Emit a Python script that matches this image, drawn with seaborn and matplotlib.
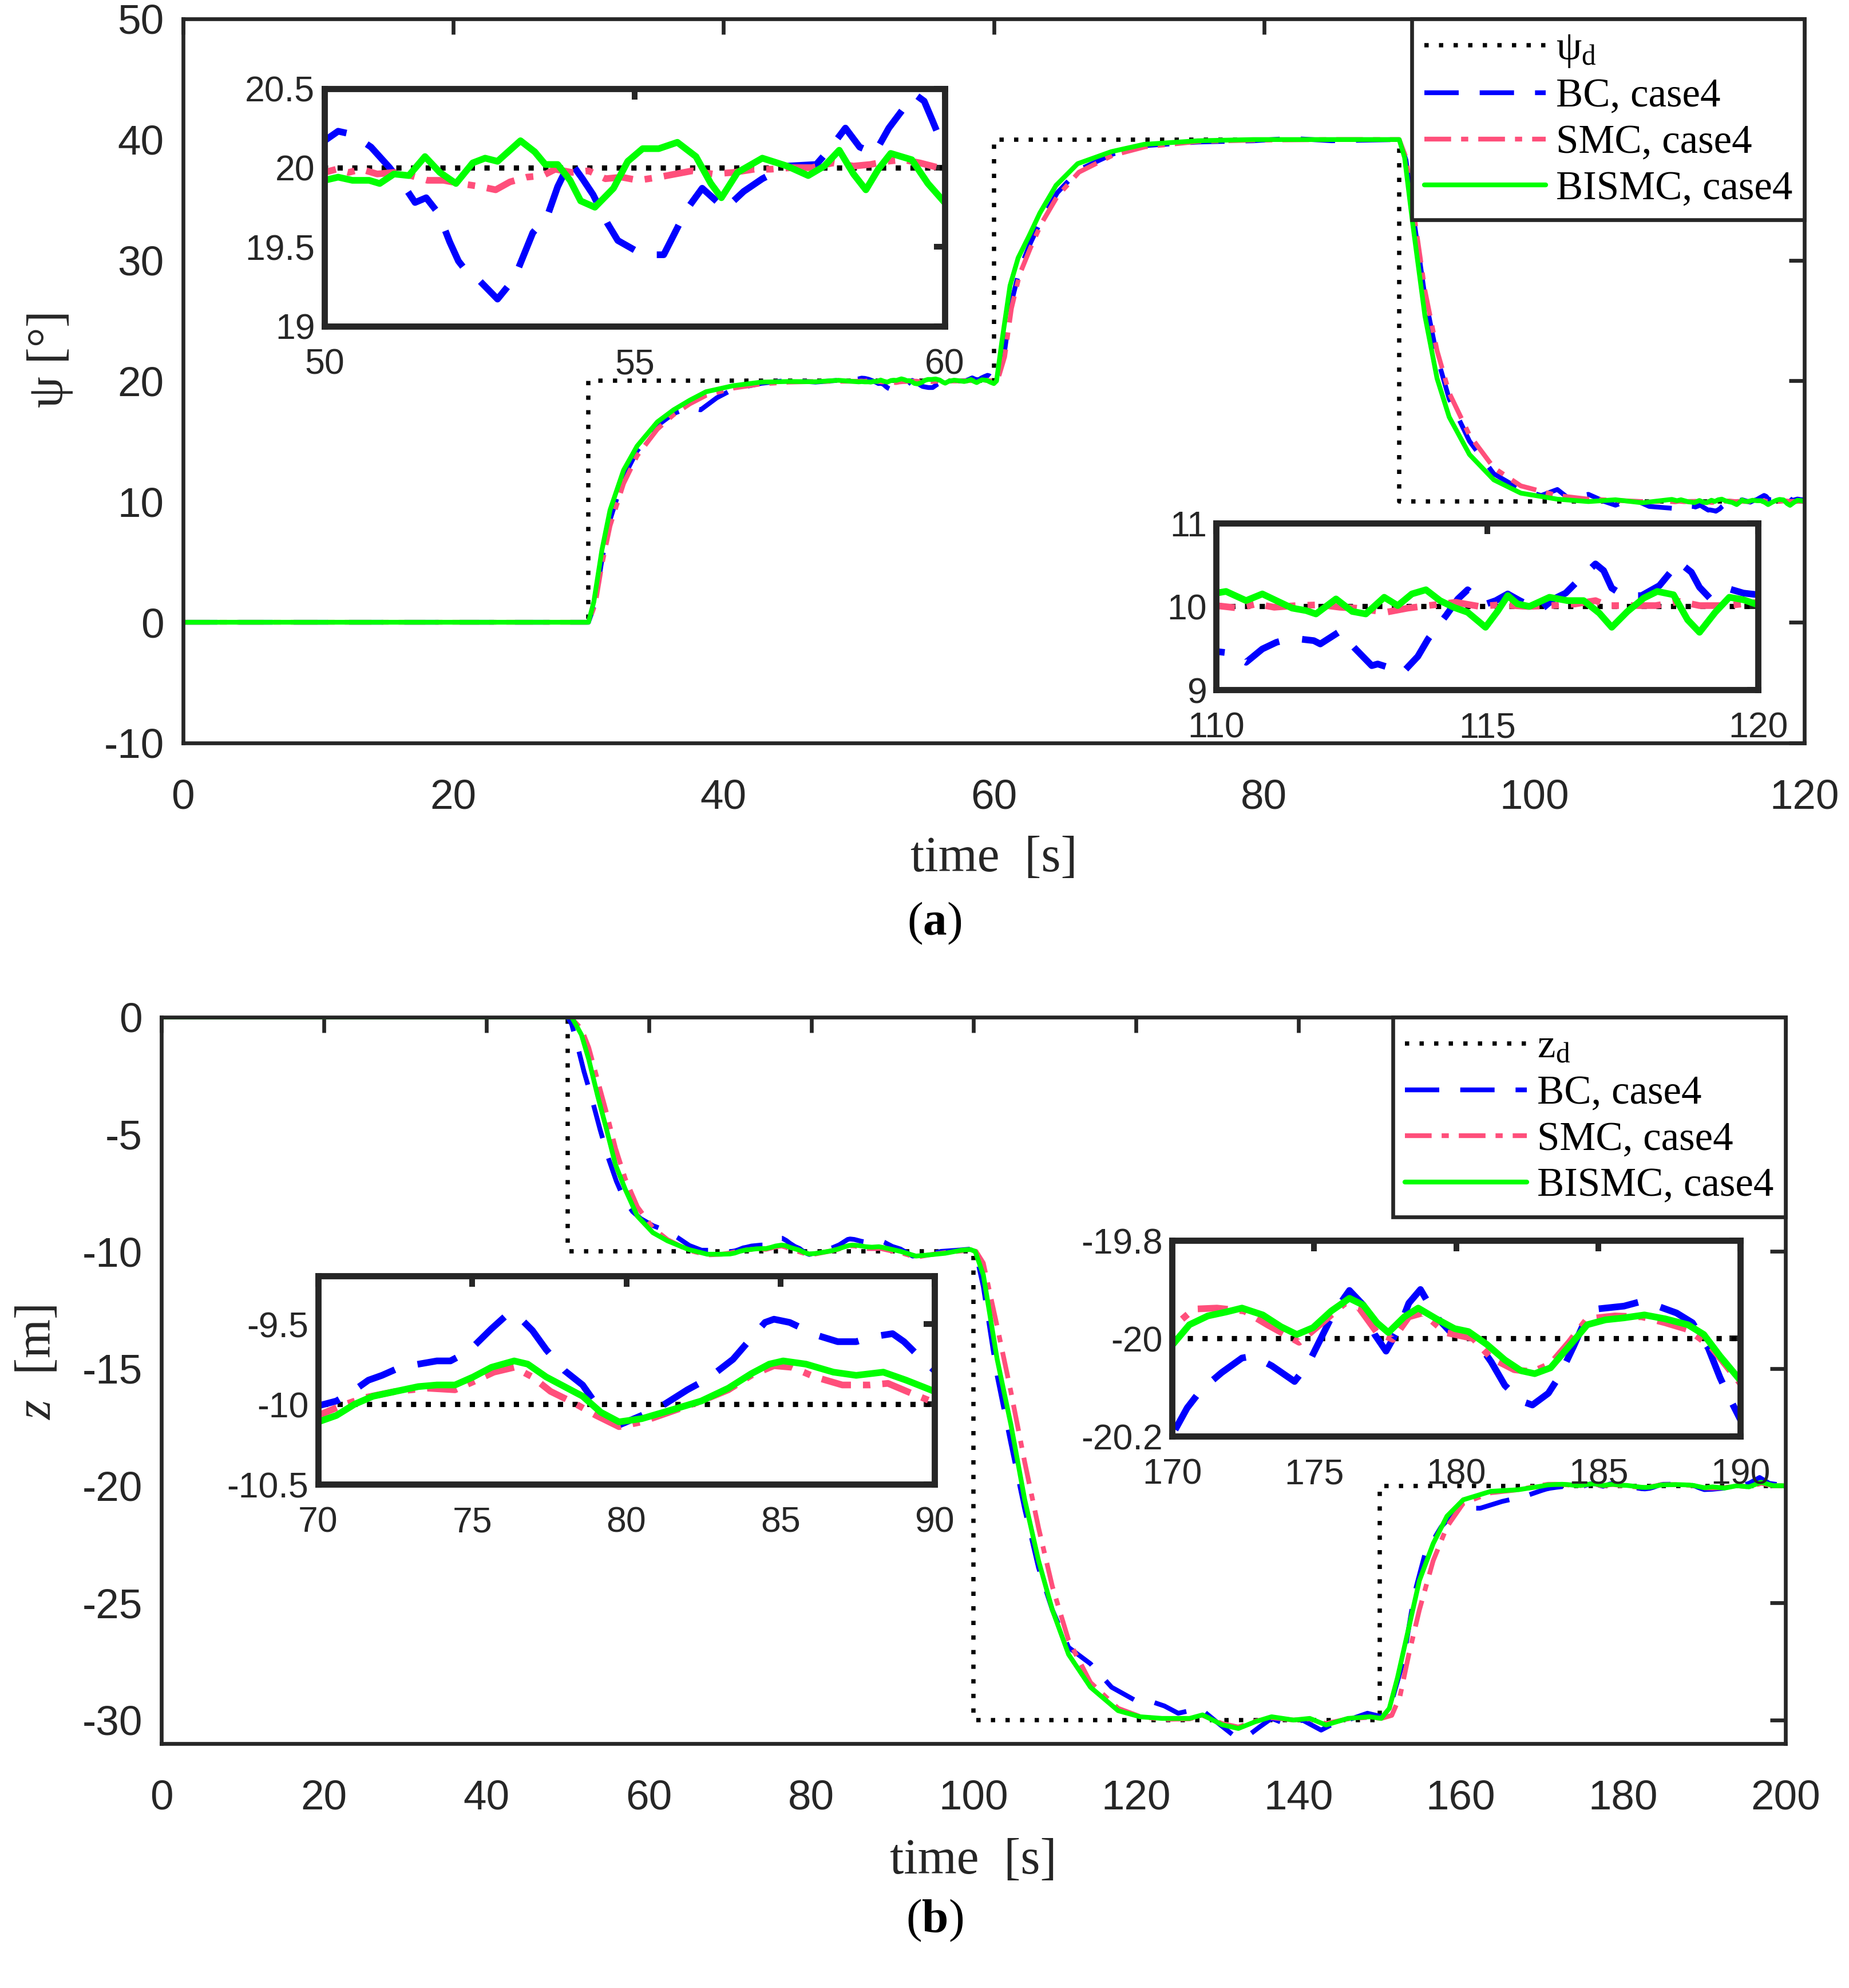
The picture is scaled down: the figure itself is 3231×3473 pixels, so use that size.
import matplotlib
matplotlib.use("Agg")
import matplotlib.pyplot as plt
import seaborn as sns
from matplotlib.ticker import FuncFormatter

# ---------------- (a) heading angle psi [deg] ----------------
t_ref_a = [0, 30, 60, 90, 120]
psi_ref = [0, 20, 40, 10, 10]

t_bc_a = [0, 30, 30.5, 31, 31.6, 32.6, 33.6, 35.1, 36.3, 37.5, 38.3, 39.5, 40.7, 42.8, 44.8, 46.8, 48.5,
          50.0, 50.22, 50.45, 50.75, 51.05, 51.29, 51.46, 51.64, 51.84, 52.02, 52.16, 52.32, 52.49, 52.79,
          53.06, 53.36, 53.59, 53.76, 53.96, 54.16, 54.33, 54.56, 54.73, 55.0, 55.17, 55.47, 55.69, 55.83,
          56.09, 56.46, 56.76, 57.06, 57.46, 57.93, 58.13, 58.40, 58.63, 58.87, 59.10, 59.33, 59.53, 59.67,
          59.80, 60.0,
          60.3, 60.8, 61.3, 61.9, 62.7, 63.5, 64.7, 66.3, 68.8, 71.2, 75.2, 79.2, 82, 85, 90, 90.5, 91,
          91.9, 92.8, 93.7, 95.2, 97, 99, 100.5, 101.7, 102.5, 104, 105.2, 106, 107.3, 108.5,
          110.0, 110.26, 110.55, 110.85, 111.11, 111.40, 111.80, 111.92, 112.28, 112.54, 112.87, 112.98,
          113.32, 113.43, 113.72, 113.91, 114.24, 114.46, 114.64, 114.94, 115.16, 115.38, 115.60, 115.97,
          116.23, 116.45, 116.71, 117.00, 117.15, 117.30, 117.52, 117.85, 118.18, 118.37, 118.52, 118.77,
          118.92, 119.11, 119.47, 119.73, 120.0]
psi_bc = [0, 0, 1.6, 5.2, 8.5, 12.0, 14.2, 16.3, 17.3, 17.8, 17.6, 18.6, 19.3, 19.8, 20.05, 19.9, 20.05,
          20.17, 20.23, 20.21, 20.13, 20.0, 19.88, 19.78, 19.81, 19.71, 19.53, 19.41, 19.33, 19.29, 19.17,
          19.30, 19.59, 19.69, 19.88, 20.04, 19.93, 19.83, 19.65, 19.54, 19.48, 19.45, 19.45, 19.62, 19.73,
          19.87, 19.74, 19.85, 19.93, 20.01, 20.02, 20.11, 20.25, 20.13, 20.09, 20.25, 20.37, 20.46, 20.42,
          20.30, 20.11,
          20.3, 22.5, 26.5, 29.2, 31.4, 33.3, 35.6, 37.5, 38.8, 39.5, 39.8, 39.9, 40.1, 39.9, 40.0, 38.3, 34,
          27, 22, 18.5, 15.0, 12.3, 11.0, 10.5, 11.0, 10.3, 10.6, 10.0, 9.7, 10.2, 9.6,
          9.46, 9.44, 9.33, 9.49, 9.57, 9.62, 9.59, 9.55, 9.70, 9.51, 9.29, 9.31,
          9.24, 9.20, 9.40, 9.61, 9.89, 10.09, 10.20, 10.02, 10.07, 10.15, 10.07, 9.95,
          10.09, 10.16, 10.33, 10.51, 10.43, 10.22, 10.13, 10.13, 10.25, 10.40, 10.54, 10.41,
          10.23, 10.10, 10.21, 10.16, 10.14]

t_smc_a = [0, 30, 30.5, 31, 31.6, 32.6, 33.6, 35.1, 36.3, 37.5, 38.7, 40.7, 42.8, 44.8, 46.8, 48.5,
           50.0, 50.19, 50.39, 50.59, 50.85, 51.12, 51.39, 51.66, 51.92, 52.19, 52.52, 52.76, 52.99, 53.26,
           53.52, 53.72, 53.99, 54.26, 54.53, 54.79, 55.06, 55.39, 55.66, 55.93, 56.26, 56.60, 56.93, 57.20,
           57.53, 57.86, 58.20, 58.53, 58.80, 59.07, 59.33, 59.60, 60.0,
           60.4, 60.8, 61.3, 61.9, 62.7, 63.5, 64.7, 66.3, 68.8, 71.2, 75.2, 79.2, 85, 90, 90.5, 91, 91.9,
           92.8, 93.7, 95.2, 97, 99, 101.7, 104, 106, 108,
           110.0, 110.41, 110.74, 111.07, 111.47, 111.92, 112.28, 112.58, 113.13, 113.54, 113.91, 114.42,
           114.86, 115.23, 115.75, 116.19, 116.63, 117.0, 117.22, 117.66, 118.11, 118.55, 118.92, 119.43, 120.0]
psi_smc = [0, 0, 1.5, 4.8, 8.0, 11.5, 13.8, 16.0, 17.2, 18.1, 18.8, 19.4, 19.75, 19.9, 19.95, 19.97,
           19.97, 19.99, 19.97, 19.99, 19.96, 19.97, 19.95, 19.92, 19.92, 19.90, 19.88, 19.86, 19.91, 19.94,
           19.95, 19.99, 19.97, 19.98, 19.93, 19.94, 19.92, 19.94, 19.96, 19.98, 19.96, 19.97, 19.99, 19.99,
           20.00, 20.00, 20.03, 20.01, 20.02, 20.04, 20.05, 20.03, 19.99,
           20.5, 22.0, 26.0, 28.8, 31.0, 33.0, 35.3, 37.3, 38.7, 39.4, 39.85, 39.95, 40.0, 40.0, 38.5, 34.5, 27.5,
           22.5, 19.0, 15.5, 12.8, 11.3, 10.5, 10.2, 10.1, 10.0,
           10.01, 9.98, 10.03, 9.99, 10.01, 10.02, 9.99, 9.98, 9.93, 9.98, 10.01, 10.05,
           10.00, 10.02, 10.00, 10.01, 10.03, 10.07, 10.01, 10.01, 10.01, 10.06, 10.01, 10.01, 10.05]

t_bis_a = [0, 30, 30.4, 31, 31.6, 32.6, 33.6, 35.1, 36.3, 37.5, 38.7, 40.7, 42.8, 44.8, 46.8, 48.5,
           50.0, 50.22, 50.45, 50.72, 50.89, 51.12, 51.36, 51.62, 51.86, 52.12, 52.39, 52.59, 52.79, 53.16,
           53.39, 53.56, 53.76, 53.96, 54.13, 54.36, 54.66, 54.89, 55.13, 55.39, 55.69, 55.99, 56.23, 56.40,
           56.66, 57.06, 57.46, 57.80, 58.06, 58.30, 58.53, 58.73, 58.93, 59.13, 59.47, 59.73, 60.0,
           60.2, 60.6, 61.2, 61.8, 62.6, 63.4, 64.6, 66.2, 68.7, 71.1, 75.1, 79.2, 85, 90, 90.4, 91, 91.9,
           92.8, 93.7, 95.2, 97, 99, 101.7, 104, 106, 108,
           110.0, 110.18, 110.55, 110.85, 111.14, 111.40, 111.66, 111.84, 112.21, 112.51, 112.76, 113.10,
           113.35, 113.61, 113.87, 114.13, 114.38, 114.64, 114.97, 115.20, 115.38, 115.56, 115.78, 116.15,
           116.48, 116.78, 117.07, 117.30, 117.59, 117.89, 118.14, 118.44, 118.70, 118.92, 119.21, 119.47,
           119.73, 120.0]
psi_bis = [0, 0, 1.7, 6.0, 9.3, 12.6, 14.6, 16.6, 17.6, 18.4, 19.1, 19.6, 19.9, 19.95, 19.93, 20.05,
           19.92, 19.94, 19.92, 19.92, 19.90, 19.96, 19.95, 20.07, 19.97, 19.90, 20.03, 20.06, 20.04, 20.17,
           20.10, 20.02, 20.02, 19.92, 19.79, 19.75, 19.87, 20.04, 20.12, 20.12, 20.16, 20.07, 19.90, 19.81,
           19.97, 20.06, 20.01, 19.95, 20.01, 20.11, 19.96, 19.86, 19.99, 20.09, 20.05, 19.90, 19.78,
           20.0, 23.3, 27.9, 30.2, 32.0, 33.9, 36.2, 38.0, 39.0, 39.6, 39.9, 40.0, 40.0, 40.0, 38.5, 33.0, 25.4,
           20.2, 17.0, 13.9, 11.8, 10.7, 10.2, 10.0, 10.15, 9.9,
           10.16, 10.18, 10.07, 10.15, 10.06, 9.98, 9.95, 9.91, 10.09, 9.94, 9.91, 10.11,
           10.01, 10.15, 10.20, 10.07, 9.99, 9.93, 9.75, 9.95, 10.13, 10.03, 10.00, 10.11,
           10.07, 10.07, 9.92, 9.75, 9.94, 10.10, 10.18, 10.14, 9.84, 9.69, 9.93, 10.11,
           10.08, 10.02]

# ---------------- (b) depth z [m] ----------------
t_ref_b = [0, 50, 100, 150, 200]
z_ref = [0, -10, -30, -20, -20]

t_bc_b = [0, 50, 50.5, 51.2, 52.0, 53.0, 54.0, 55.0, 56.0, 57.0, 58.0, 59.0, 60.5, 62.0, 63.5, 65.0, 66.5,
          68.0, 69.0,
          70.0, 70.59, 71.04, 71.63, 72.07, 72.66, 73.25, 73.85, 74.29, 74.88, 75.62, 76.14, 76.43, 76.95,
          77.40, 77.99, 78.58, 79.02, 79.47, 79.76, 80.50, 81.24, 81.98, 82.65, 83.46, 83.91, 84.50, 84.79,
          85.30, 86.18, 86.86, 87.46, 87.97, 88.64, 89.01, 89.38, 90.0,
          91.0, 92.5, 94.0, 96.0, 98.0, 99.7, 100.3, 101.2, 102.9, 104.6, 106.3, 108.0, 109.7, 111.7, 114.4,
          117.0, 119.8, 121.8, 123.5, 125.2, 127.9, 130.0, 132.0, 133.6, 135.2, 136.7, 138.7, 140.5, 142.8,
          144.8, 146.5, 148.5, 150.2, 151.5, 152.9, 154.3, 155.6, 157.6, 159.7, 162.4, 165.1, 167.8,
          170.0, 170.53, 171.01, 171.74, 172.46, 172.86, 173.51, 174.31, 174.79, 175.20, 175.68, 176.24,
          176.73, 177.13, 177.53, 178.01, 178.33, 178.74, 179.30, 179.78, 180.35, 180.75, 181.23, 181.71,
          182.28, 182.68, 183.24, 183.64, 184.13, 184.53, 184.93, 185.90, 186.54, 187.18, 187.75, 188.31,
          188.87, 189.28, 189.60, 190.0,
          191.0, 192.5, 194.0, 195.5, 196.8, 198.0, 200.0]
z_bc = [0, 0, -0.3, -1.2, -2.3, -3.5, -4.8, -6.0, -7.0, -7.8, -8.3, -8.6, -8.9, -9.1, -9.4, -9.75, -9.95,
        -9.95, -10.0,
        -10.01, -9.98, -9.93, -9.85, -9.82, -9.77, -9.75, -9.73, -9.73, -9.67, -9.53, -9.44, -9.44, -9.54,
        -9.66, -9.79, -9.88, -10.0, -10.09, -10.13, -10.07, -10.0, -9.91, -9.84, -9.72, -9.62, -9.49, -9.47,
        -9.49, -9.57, -9.61, -9.61, -9.58, -9.56, -9.61, -9.68, -9.79,
        -9.9, -10.2, -10.15, -10.0, -9.95, -9.9, -10.1, -11.5, -15.3, -18.2, -21.0, -23.5, -25.3, -26.9, -27.6,
        -28.6, -29.14, -29.2, -29.4, -29.71, -29.5, -30.1, -30.65, -30.72, -30.3, -29.93, -30.2, -30.0, -30.43,
        -30.07, -29.95, -29.71, -29.85, -29.2, -27.5, -24.6, -22.9, -21.75, -20.96, -20.96, -20.67, -20.46,
        -20.198, -20.142, -20.106, -20.07, -20.04, -20.036, -20.056, -20.088, -20.052, -20.004, -19.948, -19.902,
        -19.932, -19.992, -20.026, -19.976, -19.928, -19.90, -19.956, -19.986, -19.988, -20.008, -20.048, -20.096,
        -20.128, -20.136, -20.112, -20.076, -20.016, -19.964, -19.94, -19.934, -19.924, -19.936, -19.948, -19.968,
        -20.02, -20.08, -20.12, -20.166,
        -20.15, -20.1, -20.05, -19.9, -19.65, -19.9, -20.0]

t_smc_b = [0, 50, 50.6, 51.7, 52.6, 53.7, 54.8, 55.9, 57.1, 58.6, 60.5, 62.3, 64.9, 67.2, 69.0,
           70.0, 70.74, 71.48, 72.51, 73.55, 74.44, 75.03, 75.70, 76.36, 76.95, 77.54, 78.28, 79.02, 79.76,
           80.50, 81.39, 82.43, 83.31, 84.05, 84.79, 85.38, 86.12, 87.01, 87.90, 88.49, 89.23, 90.0,
           91.0, 92.9, 94.5, 96.5, 98.5, 99.6, 100.3, 101.2, 102.9, 104.6, 106.3, 108.0, 109.7, 111.7, 114.4,
           117.8, 120.5, 123.2, 126.6, 128.2, 130.6, 132.6, 134.7, 136.7, 139.4, 141.4, 143.4, 146.1, 148.8,
           150.2, 151.5, 152.5, 153.6, 154.9, 156.6, 158.3, 160.3, 163.7, 167.1,
           170.0, 170.77, 171.58, 172.54, 173.35, 174.47, 175.12, 176.08, 176.56, 177.21, 177.77, 178.33,
           178.82, 179.62, 180.59, 181.23, 182.04, 182.68, 183.32, 183.97, 184.61, 185.58, 186.54, 187.35,
           188.15, 188.95, 190.0,
           191.0, 192.5, 194.0, 195.5, 197.0, 198.5, 200.0]
z_smc = [0, 0, -0.1, -0.5, -1.3, -2.7, -4.1, -5.6, -6.9, -8.1, -9.0, -9.5, -9.95, -10.15, -10.12,
         -10.07, -10.01, -9.96, -9.92, -9.90, -9.91, -9.86, -9.80, -9.77, -9.83, -9.92, -9.99, -10.07, -10.14,
         -10.11, -10.05, -9.98, -9.91, -9.82, -9.76, -9.77, -9.83, -9.88, -9.88, -9.87, -9.93, -9.99,
         -10.05, -10.25, -10.15, -10.05, -9.98, -9.95, -10.0, -10.5, -13.2, -16.0, -19.0, -21.8, -24.3, -26.6,
         -28.4, -29.5, -29.85, -29.97, -29.95, -29.8, -30.15, -30.3, -30.05, -29.9, -30.0, -29.95, -30.15,
         -29.95, -29.88, -29.93, -29.8, -29.0, -27.2, -25.3, -23.2, -21.75, -20.75, -20.3, -20.17,
         -19.978, -19.94, -19.938, -19.944, -19.972, -20.008, -19.976, -19.928, -19.936, -19.988, -20.002,
         -19.956, -19.948, -19.988, -20.0, -20.04, -20.064, -20.068, -20.052, -20.008, -19.96, -19.954,
         -19.956, -19.968, -19.982, -20.016, -20.092,
         -20.1, -20.08, -20.0, -20.05, -19.9, -20.0, -20.0]

t_bis_b = [0, 50, 50.5, 51.7, 52.6, 53.7, 54.8, 55.9, 57.1, 58.6, 60.5, 62.3, 64.9, 67.2, 69.0,
           70.0, 70.59, 71.18, 71.78, 72.51, 73.25, 73.85, 74.44, 75.03, 75.62, 76.36, 76.80, 77.40, 77.99,
           78.58, 79.17, 79.76, 80.50, 81.39, 82.43, 83.31, 84.05, 84.64, 85.09, 85.83, 86.72, 87.46, 88.34,
           89.08, 90.0,
           91.0, 92.9, 94.5, 96.5, 98.5, 99.6, 100.2, 101.2, 102.9, 104.6, 106.3, 108.0, 109.7, 111.7, 114.4,
           117.8, 120.5, 123.2, 126.6, 128.2, 130.6, 132.6, 134.7, 136.7, 139.4, 141.4, 143.4, 146.1, 148.8,
           150.2, 151.2, 152.2, 153.6, 154.9, 156.6, 158.3, 160.3, 163.7, 167.1,
           170.0, 170.61, 171.26, 171.90, 172.46, 173.19, 173.83, 174.39, 174.96, 175.60, 176.24, 176.73,
           177.21, 177.61, 178.17, 178.66, 179.30, 179.94, 180.43, 181.07, 181.71, 182.28, 182.76, 183.32,
           183.97, 184.61, 185.25, 185.90, 186.62, 187.35, 188.15, 188.71, 189.28, 190.0,
           191.0, 192.5, 194.0, 195.5, 197.0, 198.5, 200.0]
z_bis = [0, 0, 0, -0.75, -1.8, -3.36, -4.8, -6.3, -7.35, -8.5, -9.2, -9.55, -9.92, -10.12, -10.12,
         -10.11, -10.07, -10.0, -9.95, -9.92, -9.89, -9.88, -9.88, -9.83, -9.77, -9.73, -9.75, -9.83, -9.89,
         -9.95, -10.05, -10.11, -10.09, -10.04, -9.98, -9.90, -9.81, -9.75, -9.73, -9.75, -9.80, -9.82, -9.80,
         -9.85, -9.92,
         -10.0, -10.2, -10.15, -10.08, -9.95, -9.92, -10.0, -11.0, -14.6, -17.4, -20.6, -23.2, -25.3, -27.2,
         -28.6, -29.6, -29.86, -29.93, -29.93, -29.78, -30.2, -30.36, -30.07, -29.86, -30.0, -29.93, -30.21,
         -29.93, -29.86, -29.93, -29.5, -28.2, -26.05, -24.05, -22.47, -21.3, -20.6, -20.24, -20.17,
         -20.014, -19.972, -19.954, -19.946, -19.938, -19.952, -19.976, -19.992, -19.978, -19.944, -19.918,
         -19.932, -19.968, -19.988, -19.956, -19.938, -19.96, -19.98, -19.986, -20.012, -20.044, -20.066,
         -20.072, -20.06, -20.016, -19.972, -19.962, -19.958, -19.952, -19.96, -19.972, -19.992, -20.036,
         -20.086,
         -20.05, -20.1, -20.0, -20.05, -19.85, -20.0, -20.0]

labels_a = ["ψ$_\\mathregular{d}$", "BC, case4", "SMC, case4", "BISMC, case4"]
labels_b = ["z$_\\mathregular{d}$", "BC, case4", "SMC, case4", "BISMC, case4"]

# colours / styles
C_REF = "black"
C_BC = "#0000FF"
C_SMC = "#FF4F7B"
C_BIS = "#00FF00"
EDGE = "#262626"

sns.set_theme(style="white")
plt.rcParams.update({
    "font.family": ["Liberation Sans", "DejaVu Sans"],
    "axes.unicode_minus": False,
    "mathtext.fontset": "custom",
    "mathtext.rm": "Liberation Serif",
    "mathtext.it": "Liberation Serif:italic",
    "mathtext.bf": "Liberation Serif:bold",
    "axes.edgecolor": EDGE,
    "xtick.color": EDGE,
    "ytick.color": EDGE,
    "text.color": "black",
})

SERIF = "Liberation Serif"
fmt = FuncFormatter(lambda v, p: "%g" % v)


def trace(ax, t, v, color, lw, dashes=None, steps=False):
    kw = dict(x=t, y=v, ax=ax, color=color, linewidth=lw, estimator=None, sort=False, legend=False)
    if steps:
        kw["drawstyle"] = "steps-post"
    sns.lineplot(**kw)
    line = ax.lines[-1]
    if dashes is not None:
        line.set_dashes(dashes)
    return line


def all_series(ax, t_ref, ref, series, inset=False):
    if inset:
        lw, lw_ref = 2.8, 2.2
        d_ref, d_bc, d_smc = (1, 1.8), (6, 3.5), (4.5, 1.8, 1.1, 1.8)
    else:
        lw, lw_ref = 2.0, 1.8
        d_ref, d_bc, d_smc = (1, 2.4), (7.2, 4.4), (5.6, 2.1, 1.5, 2.1)
    lines = [trace(ax, t_ref, ref, C_REF, lw_ref, d_ref, steps=True)]
    (tb, vb), (ts, vs), (tg, vg) = series
    lines.append(trace(ax, tb, vb, C_BC, lw, d_bc))
    lines.append(trace(ax, ts, vs, C_SMC, lw, d_smc))
    lines.append(trace(ax, tg, vg, C_BIS, lw))
    return lines


def style_main(ax):
    for s in ax.spines.values():
        s.set_linewidth(1.6)
        s.set_color(EDGE)
    ax.tick_params(direction="in", length=6.5, width=1.6, top=True, right=True, labelsize=17.5)
    ax.tick_params(axis="x", pad=15)
    ax.tick_params(axis="y", pad=8)
    ax.xaxis.set_major_formatter(fmt)
    ax.yaxis.set_major_formatter(fmt)


def style_inset(ax, xlim, ylim, xt, yt):
    ax.set_xlim(*xlim)
    ax.set_ylim(*ylim)
    ax.set_xticks(xt)
    ax.set_yticks(yt)
    ax.set_facecolor("white")
    for s in ax.spines.values():
        s.set_linewidth(2.6)
        s.set_color(EDGE)
    ax.tick_params(direction="in", length=4.5, width=2.4, top=True, right=True, labelsize=15)
    ax.tick_params(axis="x", pad=9)
    ax.tick_params(axis="y", pad=4)
    ax.xaxis.set_major_formatter(fmt)
    ax.yaxis.set_major_formatter(fmt)
    ax.set_xlabel("")
    ax.set_ylabel("")


def add_legend(ax, lines, labels):
    leg = ax.legend(lines, labels, loc="upper right", bbox_to_anchor=(1, 1), borderaxespad=0,
                    fancybox=False, framealpha=1, edgecolor=EDGE, handlelength=3.0,
                    handletextpad=0.25, labelspacing=0.22, borderpad=0.3,
                    prop={"family": SERIF, "size": 17})
    leg.get_frame().set_linewidth(1.6)
    for txt in leg.get_texts():
        txt.set_color("black")


fig = plt.figure(figsize=(3231 / 300, 3473 / 300), dpi=300)

# ---------- panel (a) ----------
ax_a = fig.add_axes([0.099, 0.6263, 0.8770, 0.3642])
series_a = [(t_bc_a, psi_bc), (t_smc_a, psi_smc), (t_bis_a, psi_bis)]
lines_a = all_series(ax_a, t_ref_a, psi_ref, series_a)
ax_a.set_xlim(0, 120)
ax_a.set_ylim(-10, 50)
ax_a.set_xticks(range(0, 121, 20))
ax_a.set_yticks(range(-10, 51, 10))
style_main(ax_a)
ax_a.set_xlabel("time  [s]", fontfamily=SERIF, fontsize=21, va="center")
ax_a.xaxis.set_label_coords(0.5, -0.16)
ax_a.set_ylabel("ψ [°]", fontfamily=SERIF, fontsize=21, va="center")
ax_a.yaxis.set_label_coords(-0.082, 0.53)
add_legend(ax_a, lines_a, labels_a)

ax_a1 = fig.add_axes([0.1755, 0.8360, 0.3354, 0.1195])
all_series(ax_a1, t_ref_a, psi_ref, series_a, inset=True)
style_inset(ax_a1, (50, 60), (19, 20.5), [50, 55, 60], [19, 19.5, 20, 20.5])

ax_a2 = fig.add_axes([0.6578, 0.6530, 0.2930, 0.0839])
all_series(ax_a2, t_ref_a, psi_ref, series_a, inset=True)
style_inset(ax_a2, (110, 120), (9, 11), [110, 115, 120], [9, 10, 11])

fig.text(0.5055, 0.5355, "($\\mathbf{a}$)", ha="center", va="center", fontfamily=SERIF, fontsize=20)

# ---------- panel (b) ----------
ax_b = fig.add_axes([0.0874, 0.1230, 0.8783, 0.3654])
series_b = [(t_bc_b, z_bc), (t_smc_b, z_smc), (t_bis_b, z_bis)]
lines_b = all_series(ax_b, t_ref_b, z_ref, series_b)
ax_b.set_xlim(0, 200)
ax_b.set_ylim(-31, 0)
ax_b.set_xticks(range(0, 201, 20))
ax_b.set_yticks(range(-30, 1, 5))
style_main(ax_b)
ax_b.set_xlabel("time  [s]", fontfamily=SERIF, fontsize=21, va="center")
ax_b.xaxis.set_label_coords(0.5, -0.162)
ax_b.set_ylabel("$z$  [m]", fontfamily=SERIF, fontsize=21, va="center")
ax_b.yaxis.set_label_coords(-0.076, 0.525)
add_legend(ax_b, lines_b, labels_b)

ax_b1 = fig.add_axes([0.1721, 0.2533, 0.3333, 0.1049])
all_series(ax_b1, t_ref_b, z_ref, series_b, inset=True)
style_inset(ax_b1, (70, 90), (-10.5, -9.2), [70, 75, 80, 85, 90], [-10.5, -10, -9.5])

ax_b2 = fig.add_axes([0.6339, 0.2775, 0.3074, 0.0985])
all_series(ax_b2, t_ref_b, z_ref, series_b, inset=True)
style_inset(ax_b2, (170, 190), (-20.2, -19.8), [170, 175, 180, 185, 190], [-20.2, -20, -19.8])

fig.text(0.5055, 0.034, "($\\mathbf{b}$)", ha="center", va="center", fontfamily=SERIF, fontsize=20)

fig.savefig("out.png", dpi=300, facecolor="white")
